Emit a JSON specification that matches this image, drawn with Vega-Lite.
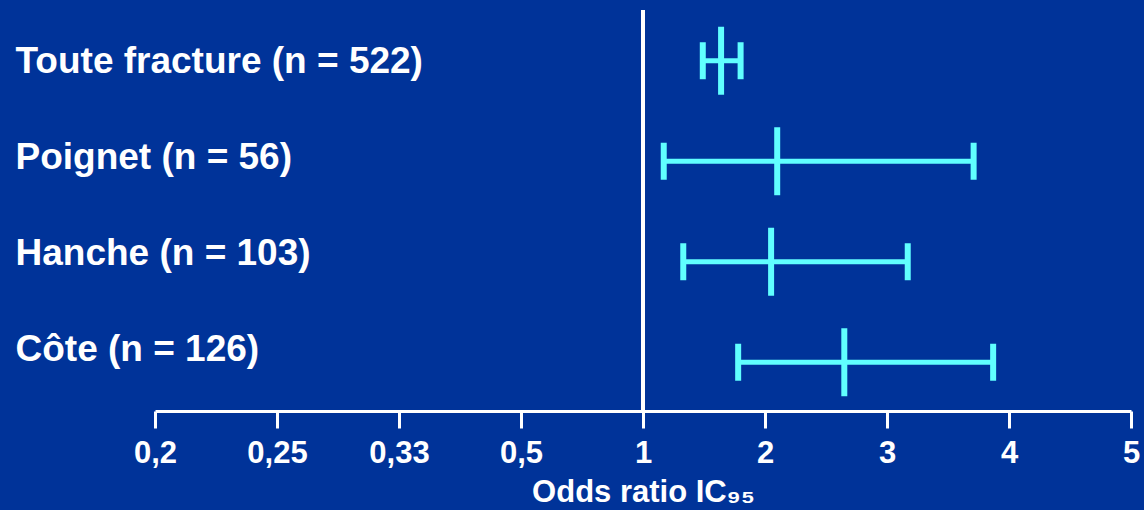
{
  "$schema": "https://vega.github.io/schema/vega-lite/v6.json",
  "width": 976,
  "height": 401,
  "autosize": {"type": "none"},
  "padding": {"left": 155, "top": 10, "right": 13, "bottom": 99},
  "background": "#003399",
  "config": {
    "view": {"stroke": null},
    "font": "Liberation Sans"
  },
  "data": {
    "values": [
      {"label": "Toute fracture (n = 522)", "or": 1.64, "low": 1.49, "high": 1.80},
      {"label": "Poignet (n = 56)", "or": 2.10, "low": 1.17, "high": 3.71},
      {"label": "Hanche (n = 103)", "or": 2.05, "low": 1.33, "high": 3.17},
      {"label": "Côte (n = 126)", "or": 2.65, "low": 1.78, "high": 3.87}
    ]
  },
  "resolve": {"scale": {"y": "independent"}, "axis": {"y": "independent"}},
  "layer": [
    {
      "mark": {"type": "rule", "color": "white", "strokeWidth": 4},
      "encoding": {
        "x": {
          "datum": 1,
          "type": "quantitative",
          "scale": {
            "type": "linear",
            "domain": [0.2, 0.25, 0.33, 0.5, 1, 2, 3, 4, 5],
            "range": [0, 122, 244, 366, 488, 610, 732, 854, 976],
            "zero": false,
            "nice": false
          },
          "axis": {
            "values": [0.2, 0.25, 0.33, 0.5, 1, 2, 3, 4, 5],
            "labelExpr": "replace(toString(datum.value), '.', ',')",
            "title": "Odds ratio IC₉₅",
            "grid": false,
            "domainColor": "white",
            "domainWidth": 3,
            "tickColor": "white",
            "tickWidth": 3,
            "tickSize": 17,
            "labelColor": "white",
            "labelFont": "Liberation Sans",
            "labelFontSize": 31,
            "labelFontWeight": "bold",
            "labelPadding": 10,
            "labelFlush": false,
            "labelOverlap": false,
            "titleColor": "white",
            "titleFont": "Liberation Sans",
            "titleFontSize": 31,
            "titleFontWeight": "bold",
            "titlePadding": 9
          }
        }
      }
    },
    {
      "mark": {"type": "point", "opacity": 0},
      "encoding": {
        "x": {"datum": 1, "type": "quantitative"},
        "y": {
          "field": "label",
          "type": "nominal",
          "sort": null,
          "scale": {"type": "point", "padding": 0.589, "align": 0.43},
          "axis": {
            "orient": "left",
            "title": null,
            "domain": false,
            "ticks": false,
            "tickSize": 0,
            "labelAlign": "left",
            "labelBaseline": "middle",
            "labelPadding": 140,
            "labelOffset": 3,
            "labelLimit": 600,
            "labelColor": "white",
            "labelFont": "Liberation Sans",
            "labelFontSize": 37,
            "labelFontWeight": "bold"
          }
        }
      }
    },
    {
      "layer": [
        {
          "mark": {"type": "rule", "color": "#60FFFF", "strokeWidth": 5},
          "encoding": {
            "x": {"field": "low", "type": "quantitative"},
            "x2": {"field": "high"}
          }
        },
        {
          "mark": {"type": "tick", "color": "#60FFFF", "size": 37, "thickness": 6, "opacity": 1},
          "encoding": {
            "x": {"field": "low", "type": "quantitative"}
          }
        },
        {
          "mark": {"type": "tick", "color": "#60FFFF", "size": 37, "thickness": 6, "opacity": 1},
          "encoding": {
            "x": {"field": "high", "type": "quantitative"}
          }
        },
        {
          "mark": {"type": "tick", "color": "#60FFFF", "size": 68, "thickness": 6, "opacity": 1},
          "encoding": {
            "x": {"field": "or", "type": "quantitative"}
          }
        }
      ],
      "encoding": {
        "y": {
          "field": "label",
          "type": "nominal",
          "sort": null,
          "scale": {"type": "point", "padding": 0.495, "align": 0.51},
          "axis": null
        }
      }
    }
  ]
}
